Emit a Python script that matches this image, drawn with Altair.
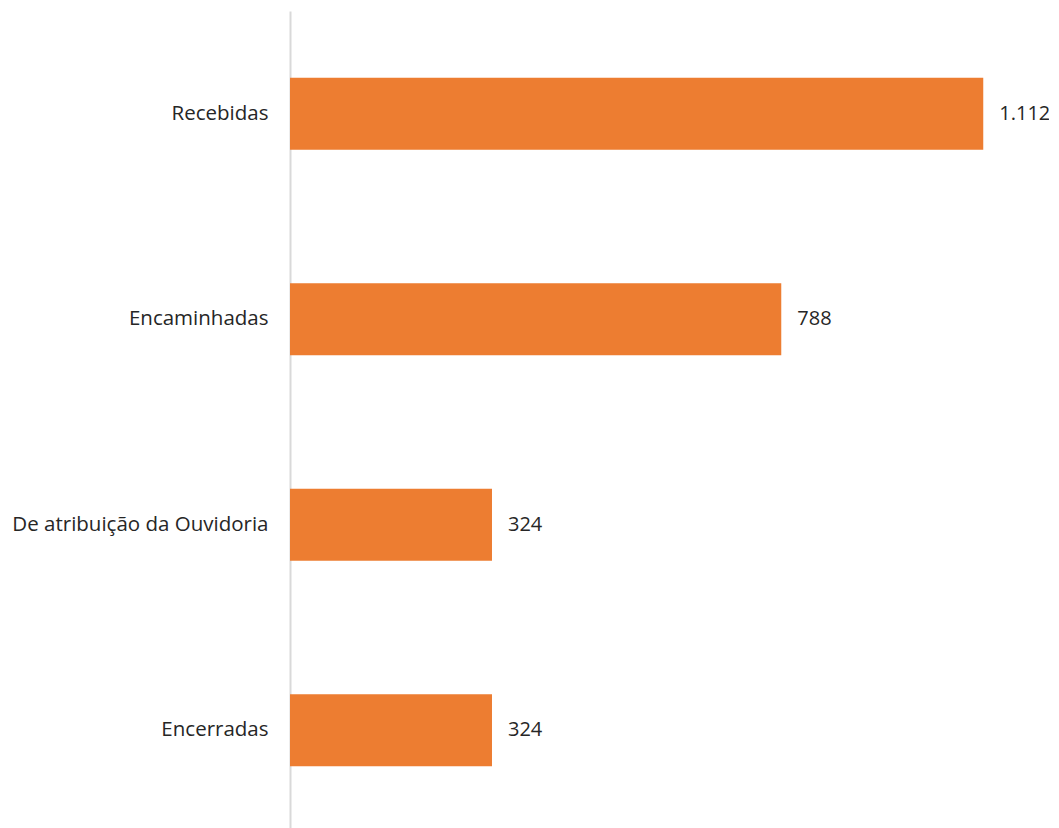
import altair as alt
import pandas as pd

categories = ["Recebidas", "Encaminhadas", "De atribuição da Ouvidoria", "Encerradas"]
values = [1112, 788, 324, 324]

df = pd.DataFrame({"cat": categories, "v": values})

FONT = "Open Sans"

base = alt.Chart(df).encode(
    y=alt.Y("cat:N", sort=categories,
            scale=alt.Scale(paddingInner=0.65, paddingOuter=0.325),
            axis=alt.Axis(title=None, ticks=False, domainColor="#d9d9d9", domainWidth=2,
                          labelFont=FONT, labelFontSize=20.5, labelColor="#262626",
                          labelPadding=22, labelLimit=400)),
    x=alt.X("v:Q", scale=alt.Scale(domain=[0, 1195]), axis=None),
)

bars = base.mark_bar(color="#ED7D31")
text = base.transform_calculate(
    label="replace(format(datum.v, ','), ',', '.')"
).mark_text(align="left", dx=16, font=FONT, fontSize=20, color="#262626").encode(text="label:N")

chart = (bars + text).properties(
    width=745, height=822,
    autosize=alt.AutoSizeParams(type="none"),
    padding={"left": 282, "top": 3, "right": 14, "bottom": 0},
).configure_view(stroke=None)

chart.save("out.html", embed_options={"renderer": "svg", "actions": False})
